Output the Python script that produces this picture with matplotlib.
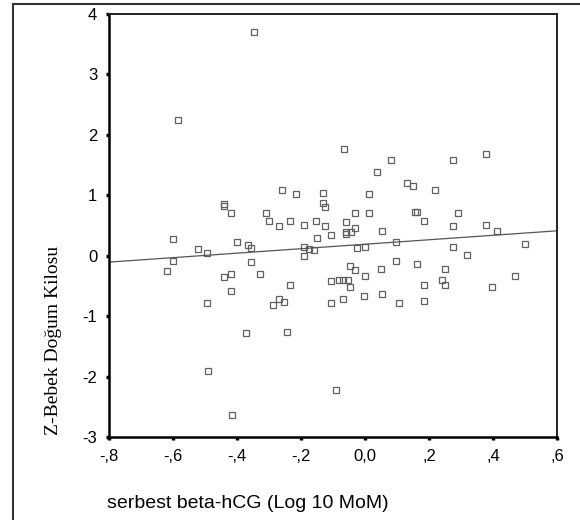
import numpy as np
import matplotlib
matplotlib.use("Agg")
import matplotlib.pyplot as plt
from matplotlib.lines import Line2D
from matplotlib.ticker import FuncFormatter

plt.rcParams["axes.unicode_minus"] = False

# data (x = serbest beta-hCG log10 MoM, y = Z birth weight)
hcg = [-0.347, -0.583, -0.065, 0.081, 0.039, 0.275, 0.379, -0.258, -0.216, -0.442,
       -0.442, -0.418, -0.309, -0.299, -0.268, -0.234, -0.192, -0.154, -0.601, -0.522,
       -0.493, -0.399, -0.367, -0.356, -0.601, -0.620, -0.356, -0.442, -0.418, -0.328,
       -0.418, -0.234, -0.493, -0.287, -0.268, -0.253, -0.192, -0.192, -0.174, -0.158,
       -0.149, -0.243, 0.132, 0.151, 0.219, -0.130, 0.011, -0.130, -0.125, -0.030,
       0.011, 0.156, 0.162, 0.290, 0.185, -0.125, -0.059, -0.030, -0.059, -0.059,
       -0.045, -0.106, 0.053, 0.275, 0.378, 0.413, -0.026, 0.001, 0.096, 0.275,
       0.501, 0.318, -0.046, -0.030, 0.049, 0.096, 0.161, 0.251, 0.468, -0.106,
       -0.080, -0.068, -0.054, -0.046, 0.001, 0.185, 0.242, 0.251, 0.397, -0.106,
       -0.069, -0.003, 0.053, 0.105, 0.185, -0.373, -0.492, -0.417, -0.092]
zscore = [3.70, 2.25, 1.76, 1.59, 1.38, 1.59, 1.69, 1.09, 1.02, 0.86,
          0.83, 0.71, 0.71, 0.58, 0.49, 0.58, 0.51, 0.58, 0.27, 0.11,
          0.04, 0.23, 0.18, 0.12, -0.08, -0.26, -0.10, -0.35, -0.31, -0.31,
          -0.58, -0.49, -0.79, -0.82, -0.71, -0.77, 0.15, 0.00, 0.11, 0.09,
          0.30, -1.26, 1.20, 1.15, 1.08, 1.04, 1.02, 0.88, 0.81, 0.71,
          0.71, 0.72, 0.73, 0.71, 0.58, 0.49, 0.55, 0.46, 0.39, 0.36,
          0.39, 0.35, 0.41, 0.49, 0.51, 0.41, 0.12, 0.15, 0.23, 0.14,
          0.20, 0.02, -0.17, -0.24, -0.22, -0.08, -0.14, -0.22, -0.33, -0.42,
          -0.40, -0.40, -0.40, -0.51, -0.33, -0.49, -0.40, -0.49, -0.51, -0.79,
          -0.72, -0.67, -0.63, -0.79, -0.75, -1.28, -1.91, -2.63, -2.23]

# fit line as drawn in the picture
fit_intercept = 0.19
fit_slope = 0.37

x_ticks = [-0.8, -0.6, -0.4, -0.2, 0.0, 0.2, 0.4, 0.6]
y_ticks = [-3, -2, -1, 0, 1, 2, 3, 4]


def comma_fmt(v, pos):
    s = "%.1f" % v
    if s == "0.0":
        return "0,0"
    s = s.replace("0.", ".")
    return s.replace(".", ",")


fig = plt.figure(figsize=(5.8, 5.2), dpi=100)
ax = fig.add_axes([109/580, 1 - 437/520, 448/580, 423/520])

ax.plot(hcg, zscore, ls="none", marker="s", ms=4.4, mfc="none",
        mec="#606060", mew=0.9)

xs = np.array([-0.8, 0.6])
ax.plot(xs, fit_intercept + fit_slope * xs, color="#555555", lw=0.9)

ax.set_xlim(-0.8, 0.6)
ax.set_ylim(-3, 4)
ax.set_xticks(x_ticks)
ax.set_yticks(y_ticks)
ax.set_yticklabels([str(t) for t in y_ticks])
ax.xaxis.set_major_formatter(FuncFormatter(comma_fmt))
ax.tick_params(direction="out", length=2.5, width=2.5, color="black",
               labelsize=12, pad=6)
for lab in ax.get_xticklabels() + ax.get_yticklabels():
    lab.set_family("Liberation Sans")
for sp in ax.spines.values():
    sp.set_linewidth(1.4)
    sp.set_color("#222222")
ax.spines["left"].set_color("black")
ax.spines["bottom"].set_color("black")
ax.spines["left"].set_linewidth(1.8)
ax.spines["bottom"].set_linewidth(1.8)

fig.text(107/580, 1 - 504/520, "serbest beta-hCG (Log 10 MoM)",
         family="Liberation Sans", fontsize=14, ha="left", va="center")
fig.text(54/580, 1 - 340/520, "Z-Bebek Doğum Kilosu",
         family="Liberation Serif", fontsize=14, rotation=90,
         ha="center", va="center")

# outer frame (top and left edges visible)
fig.add_artist(Line2D([13/580, 13/580], [0, 1 - 4/520], transform=fig.transFigure,
                      color="#333333", lw=1.5))
fig.add_artist(Line2D([13/580, 1], [1 - 4/520, 1 - 4/520], transform=fig.transFigure,
                      color="#333333", lw=1.5))

fig.savefig("out.png", dpi=100)
